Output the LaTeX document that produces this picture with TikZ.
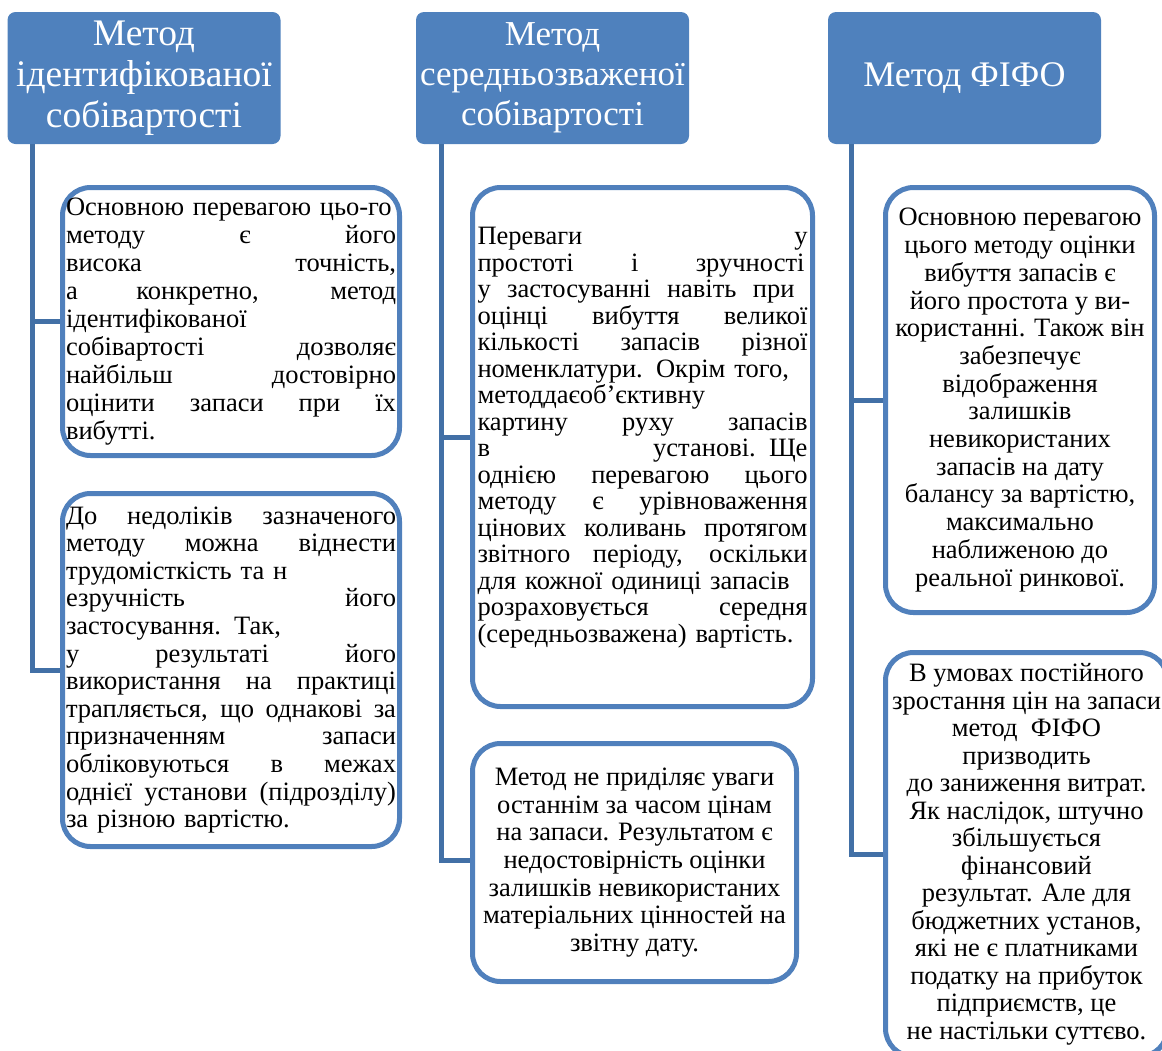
\documentclass[tikz,border=0pt]{standalone}
\usepackage{fontspec}
\setmainfont{Liberation Serif}
\definecolor{headblue}{HTML}{4F81BD}
\definecolor{edgeblue}{HTML}{5080BC}
\definecolor{connblue}{HTML}{4270A6}
% one justified line of a text block (optional width)
\newcommand{\jl}[2][330pt]{\makebox[#1][s]{\spaceskip=.25em plus 1fil\relax #2}\\}
\tikzset{
  head/.style={rectangle, rounded corners=8pt, fill=headblue, text=white,
    minimum width=273pt, minimum height=132pt, align=center, inner sep=2pt,
    font=\fontsize{35}{40}\selectfont},
  card/.style={rectangle, rounded corners=28pt, draw=edgeblue, line width=5pt,
    fill=white, inner xsep=3pt, inner ysep=4pt, anchor=north west},
  jtext/.style={text width=330pt, align=left},
  ctext/.style={align=center},
  conn/.style={draw=connblue, line width=5pt},
}
\begin{document}
\begin{tikzpicture}[x=1pt, y=-1pt]
\useasboundingbox (0,0) rectangle (1162,1050);
\clip (0,0) rectangle (1162,1050);

% column headers
\node[head, font=\fontsize{37.5}{41}\selectfont] (h1) at (144,78)
  {Метод\\ідентифікованої\\собівартості};
\node[head] (h2) at (552.5,78) {Метод\\середньозваженої\\собівартості};
\node[head, font=\fontsize{36}{40}\selectfont] (h3) at (964.5,78) {Метод ФІФО};

% trunk points under each header
\coordinate (t1) at ([xshift=25pt]h1.south west);
\coordinate (t2) at ([xshift=26pt]h2.south west);
\coordinate (t3) at ([xshift=24pt]h3.south west);

% column 1 cards
\node[card, jtext, minimum width=337pt, minimum height=268pt,
  font=\fontsize{26.5}{27.9}\selectfont] (b11) at (60,185) {%
Основною перевагою цьо-го\\
\jl{методу є його}
\jl{висока точність,}
\jl{а конкретно, метод}
ідентифікованої\\
\jl{собівартості дозволяє}
\jl{найбільш достовірно}
\jl{оцінити запаси при їх}
вибутті.};

\node[card, jtext, minimum width=337pt, minimum height=353pt,
  font=\fontsize{26.5}{27.6}\selectfont] (b12) at (60,491) {%
\jl{До недоліків зазначеного}
\jl{методу можна віднести}
трудомісткість та н\\
\jl{езручність його}
\jl{застосування. Так,}
\jl{у результаті його}
\jl{використання на практиці}
\jl{трапляється, що однакові за}
\jl{призначенням запаси}
\jl{обліковуються в межах}
\jl{однієї установи (підрозділу)}
за різною вартістю.};

% column 2 cards (the text block sits a little above the middle)
\node[card, jtext, minimum width=340pt, minimum height=519pt,
  font=\fontsize{26.5}{26.5}\selectfont] (b21) at (470,185) {%
\jl{Переваги у}
\jl[327pt]{простоті і зручності}
\jl[317pt]{у застосуванні навіть при}
\jl{оцінці вибуття великої}
\jl{кількості запасів різної}
номенклатури. Окрім того,\\
методдаєоб’єктивну\\
\jl{картину руху запасів}
\jl{в установі. Ще}
\jl{однією перевагою цього}
\jl{методу є урівноваження}
\jl{цінових коливань протягом}
\jl{звітного періоду, оскільки}
для кожної одиниці запасів\\
\jl{розраховується середня}
(середньозважена) вартість.\rule[-24pt]{0pt}{1pt}};

\node[card, ctext, minimum width=324pt, minimum height=238pt,
  font=\fontsize{26.5}{27.7}\selectfont] (b22) at (470,741) {%
Метод не приділяє уваги\\
останнім за часом цінам\\
на запаси. Результатом є\\
недостовірність оцінки\\
залишків невикористаних\\
матеріальних цінностей на\\
звітну дату.};

% column 3 cards
\node[card, ctext, minimum width=269pt, minimum height=425pt,
  font=\fontsize{26.5}{27.7}\selectfont] (b31) at (883,185) {%
Основною перевагою\\
цього методу оцінки\\
вибуття запасів є\\
його простота у ви-\\
користанні. Також він\\
забезпечує\\
відображення\\
залишків\\
невикористаних\\
запасів на дату\\
балансу за вартістю,\\
максимально\\
наближеною до\\
реальної ринкової.};

\node[card, ctext, minimum width=282pt, minimum height=404pt,
  font=\fontsize{26.5}{27.5}\selectfont] (b32) at (883,650) {%
В умовах постійного\\
зростання цін на запаси\\
метод\ \ ФІФО\\
призводить\\
до заниження витрат.\\
Як наслідок, штучно\\
збільшується\\
фінансовий\\
результат. Але для\\
бюджетних установ,\\
які не є платниками\\
податку на прибуток\\
підприємств, це\\
не настільки суттєво.};

% connectors: trunk from each header, one branch per card
\draw[conn] (t1) |- (b12.west);
\draw[conn] (b11.west -| t1) -- (b11.west);
\draw[conn] (t2) |- ([yshift=2pt]b22.west);
\draw[conn] ([yshift=9.5pt]b21.west -| t2) -- ([yshift=9.5pt]b21.west);
\draw[conn] (t3) |- (b32.west);
\draw[conn] (b31.west -| t3) -- (b31.west);
\end{tikzpicture}
\end{document}
